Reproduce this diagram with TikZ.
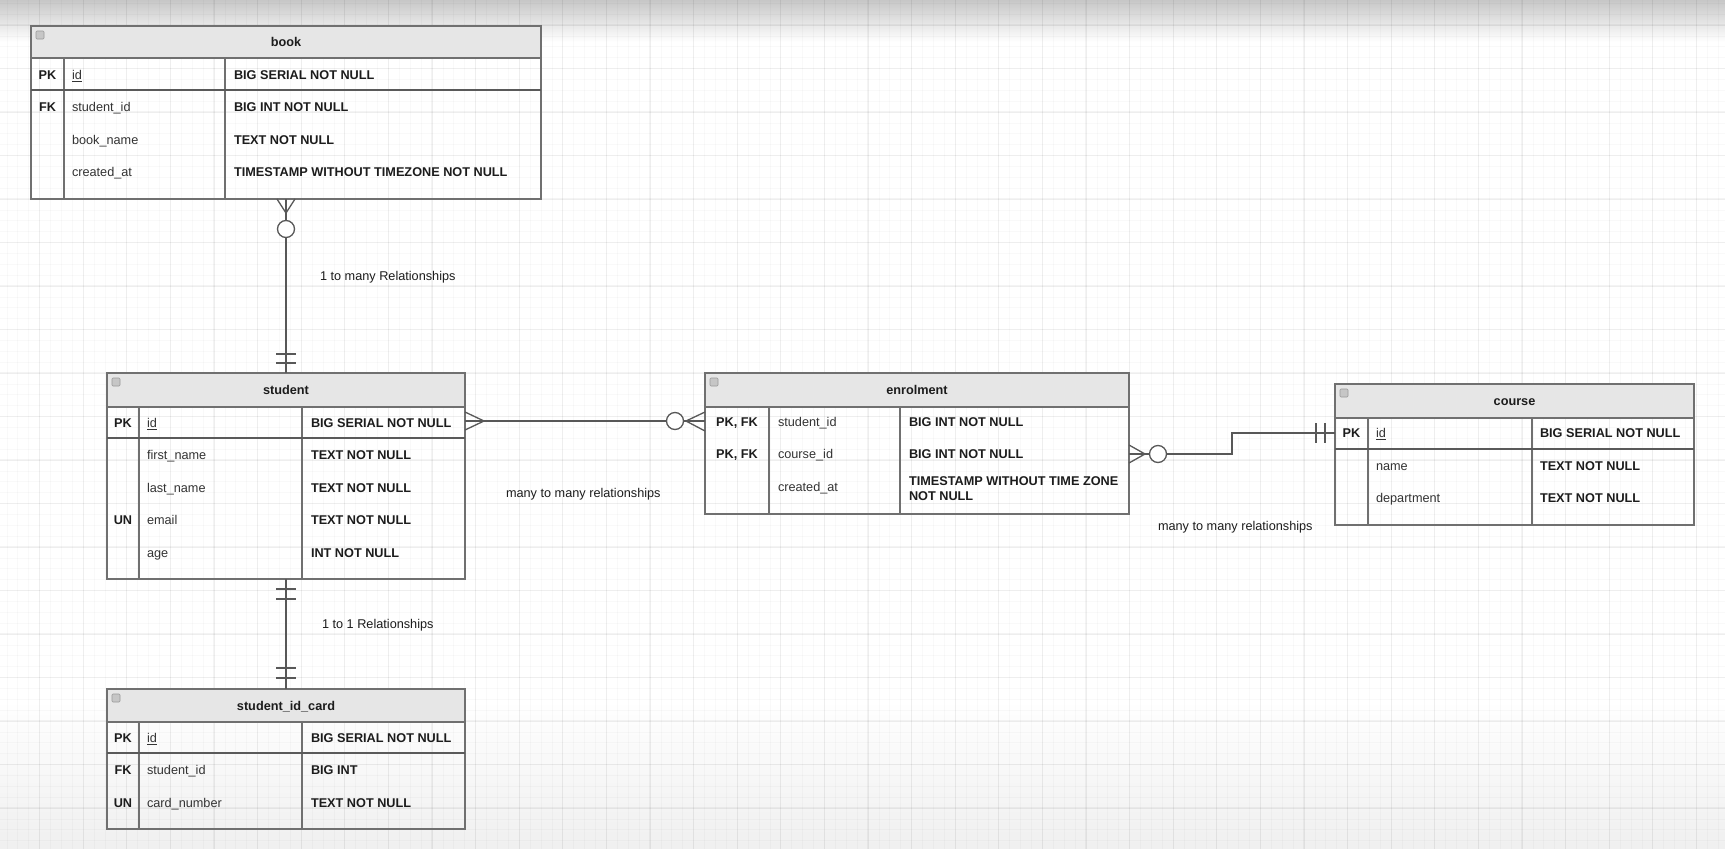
\documentclass[tikz,border=0pt]{standalone}
\usepackage{fontspec}
\setmainfont{Liberation Sans}
\usetikzlibrary{calc}

\definecolor{edge}{HTML}{707070}
\definecolor{pkedge}{HTML}{5A5A5A}
\definecolor{hdrfill}{HTML}{E6E6E6}
\definecolor{ink}{HTML}{1C1C1C}
\definecolor{fieldink}{HTML}{333333}
\definecolor{relc}{HTML}{585858}

\tikzset{
  tablebox/.style={draw=edge, line width=1.3pt, inner sep=0pt, outer sep=0pt},
  sepline/.style={draw=edge, line width=1.3pt},
  pkline/.style={draw=pkedge, line width=2.6pt},
  basetext/.style={inner sep=0pt, outer sep=0pt, text height=9pt, text depth=0pt},
  titletext/.style={basetext, text=ink, font=\fontsize{12.7}{15}\selectfont\bfseries},
  keytext/.style={basetext, text=ink, font=\fontsize{12.7}{15}\selectfont\bfseries},
  fieldtext/.style={basetext, anchor=west, text=fieldink},
  typetext/.style={basetext, anchor=west, text=ink, font=\fontsize{12.7}{15}\selectfont\bfseries},
  reltext/.style={basetext, anchor=west, text=ink},
  rel/.style={draw=relc, line width=1.3pt},
  ercircle/.style={circle, draw=relc, line width=1.3pt, fill=white, minimum size=17pt, inner sep=0pt},
  collapseicon/.style={draw=gray!80, fill=gray!45, rounded corners=1pt, minimum size=8pt, inner sep=0pt, line width=0.6pt},
  majorgrid/.style={draw=black, draw opacity=0.045, line width=1.1pt},
  minorgrid/.style={draw=black, draw opacity=0.022, line width=0.7pt},
}

% table frame: name, x0, y0, x1, y1, header bottom, title, column 1, column 2
\newcommand\ERtable[9]{%
  \fill[hdrfill] (#2,#3) rectangle (#4,#6);
  \node[tablebox, anchor=north west, minimum width={#4-#2}, minimum height={#5-#3}] (#1) at (#2,#3) {};
  \draw[sepline] (#2,#6) -- (#4,#6);
  \draw[sepline] (#8,#6) -- (#8,#5);
  \draw[sepline] (#9,#6) -- (#9,#5);
  \node[titletext] (#1-title) at ({(#2+#4)/2},{(#3+#6)/2}) {#7};
  \node[collapseicon] (#1-icon) at ({#2+9},{#3+9}) {};
}

\begin{document}
\begin{tikzpicture}[x=1pt,y=-1pt,font=\fontsize{12.7}{15}\selectfont]
\useasboundingbox (0,0) rectangle (1725,849);

% canvas
\fill[white] (0,0) rectangle (1725,849);
\shade[top color=black!22, bottom color=white] (0,0) rectangle (1725,42);
\shade[top color=white, bottom color=black!6] (0,700) rectangle (1725,849);
\foreach \j in {-3,...,157} \draw[minorgrid] ({39.6+10.9*\j},0) -- ({39.6+10.9*\j},849);
\foreach \j in {-2,...,76} \draw[minorgrid] (0,{25+10.875*\j}) -- (1725,{25+10.875*\j});
\foreach \k in {0,...,38} \draw[majorgrid] ({39.6+43.6*\k},0) -- ({39.6+43.6*\k},849);
\foreach \k in {0,...,19} \draw[majorgrid] (0,{25+43.5*\k}) -- (1725,{25+43.5*\k});

% ---------------- book ----------------
\ERtable{book}{31}{26}{541}{199}{58}{book}{64}{225}
\draw[pkline] (31,90) -- (541,90);
\node[keytext] (bk-k1) at (47.5,75) {PK};
\node[fieldtext] (bk-f1) at (72,75) {\underline{id}};
\node[typetext] (bk-t1) at (234,75) {BIG SERIAL NOT NULL};
\node[keytext] (bk-k2) at (47.5,107) {FK};
\node[fieldtext] (bk-f2) at (72,107) {student\_id};
\node[typetext] (bk-t2) at (234,107) {BIG INT NOT NULL};
\node[fieldtext] (bk-f3) at (72,140) {book\_name};
\node[typetext] (bk-t3) at (234,140) {TEXT NOT NULL};
\node[fieldtext] (bk-f4) at (72,172) {created\_at};
\node[typetext] (bk-t4) at (234,172) {TIMESTAMP WITHOUT TIMEZONE NOT NULL};

% ---------------- student ----------------
\ERtable{student}{107}{373}{465}{579}{407}{student}{139}{302}
\draw[pkline] (107,438) -- (465,438);
\node[keytext] (st-k1) at (123,423) {PK};
\node[fieldtext] (st-f1) at (147,423) {\underline{id}};
\node[typetext] (st-t1) at (311,423) {BIG SERIAL NOT NULL};
\node[fieldtext] (st-f2) at (147,455) {first\_name};
\node[typetext] (st-t2) at (311,455) {TEXT NOT NULL};
\node[fieldtext] (st-f3) at (147,488) {last\_name};
\node[typetext] (st-t3) at (311,488) {TEXT NOT NULL};
\node[keytext] (st-k4) at (123,520) {UN};
\node[fieldtext] (st-f4) at (147,520) {email};
\node[typetext] (st-t4) at (311,520) {TEXT NOT NULL};
\node[fieldtext] (st-f5) at (147,553) {age};
\node[typetext] (st-t5) at (311,553) {INT NOT NULL};

% ---------------- student_id_card ----------------
\ERtable{card}{107}{689}{465}{829}{722}{student\_id\_card}{139}{302}
\draw[pkline] (107,753) -- (465,753);
\node[keytext] (cd-k1) at (123,738) {PK};
\node[fieldtext] (cd-f1) at (147,738) {\underline{id}};
\node[typetext] (cd-t1) at (311,738) {BIG SERIAL NOT NULL};
\node[keytext] (cd-k2) at (123,770) {FK};
\node[fieldtext] (cd-f2) at (147,770) {student\_id};
\node[typetext] (cd-t2) at (311,770) {BIG INT};
\node[keytext] (cd-k3) at (123,803) {UN};
\node[fieldtext] (cd-f3) at (147,803) {card\_number};
\node[typetext] (cd-t3) at (311,803) {TEXT NOT NULL};

% ---------------- enrolment ----------------
\ERtable{enrol}{705}{373}{1129}{514}{407}{enrolment}{769}{900}
\node[keytext] (en-k1) at (737,422) {PK, FK};
\node[fieldtext] (en-f1) at (778,422) {student\_id};
\node[typetext] (en-t1) at (909,422) {BIG INT NOT NULL};
\node[keytext] (en-k2) at (737,454) {PK, FK};
\node[fieldtext] (en-f2) at (778,454) {course\_id};
\node[typetext] (en-t2) at (909,454) {BIG INT NOT NULL};
\node[fieldtext] (en-f3) at (778,487) {created\_at};
\node[typetext] (en-t3a) at (909,481) {TIMESTAMP WITHOUT TIME ZONE};
\node[typetext] (en-t3b) at (909,496) {NOT NULL};

% ---------------- course ----------------
\ERtable{course}{1335}{384}{1694}{525}{418}{course}{1368}{1532}
\draw[pkline] (1335,449) -- (1694,449);
\node[keytext] (co-k1) at (1351.5,433) {PK};
\node[fieldtext] (co-f1) at (1376,433) {\underline{id}};
\node[typetext] (co-t1) at (1540,433) {BIG SERIAL NOT NULL};
\node[fieldtext] (co-f2) at (1376,466) {name};
\node[typetext] (co-t2) at (1540,466) {TEXT NOT NULL};
\node[fieldtext] (co-f3) at (1376,498) {department};
\node[typetext] (co-t3) at (1540,498) {TEXT NOT NULL};

% ---------------- relationships ----------------
% book (zero or many) -- student (exactly one)
\coordinate (bk-s) at (286,199);
\coordinate (st-n) at (286,373);
\draw[rel] (bk-s) -- (st-n);
\draw[rel] ($(bk-s)+(-9,0)$) -- ($(bk-s)+(0,14)$) -- ($(bk-s)+(9,0)$);
\node[ercircle] (bk-o) at ($(bk-s)+(0,30)$) {};
\draw[rel] ($(st-n)+(-10,-19)$) -- ++(20,0);
\draw[rel] ($(st-n)+(-10,-10)$) -- ++(20,0);
\node[reltext] (lbl-1m) at (320,276) {1 to many Relationships};

% student (exactly one) -- student_id_card (exactly one)
\coordinate (st-s) at (286,579);
\coordinate (cd-n) at (286,689);
\draw[rel] (st-s) -- (cd-n);
\draw[rel] ($(st-s)+(-10,10)$) -- ++(20,0);
\draw[rel] ($(st-s)+(-10,20)$) -- ++(20,0);
\draw[rel] ($(cd-n)+(-10,-21)$) -- ++(20,0);
\draw[rel] ($(cd-n)+(-10,-11)$) -- ++(20,0);
\node[reltext] (lbl-11) at (322,624) {1 to 1 Relationships};

% student (many) -- enrolment (zero or many)
\coordinate (st-e) at (465,421);
\coordinate (en-w) at (705,421);
\draw[rel] (st-e) -- (en-w);
\draw[rel] ($(st-e)+(0,-9)$) -- ($(st-e)+(19,0)$) -- ($(st-e)+(0,9)$);
\draw[rel] ($(en-w)+(0,-9)$) -- ($(en-w)+(-19,0)$) -- ($(en-w)+(0,10)$);
\node[ercircle] (en-o1) at ($(en-w)+(-30,0)$) {};
\node[reltext] (lbl-mm1) at (506,493) {many to many relationships};

% enrolment (zero or many) -- course (exactly one)
\coordinate (en-e) at (1129,454);
\coordinate (co-w) at (1335,433);
\draw[rel] (en-e) -- ++(103,0) |- (co-w);
\draw[rel] ($(en-e)+(0,-9)$) -- ($(en-e)+(16,0)$) -- ($(en-e)+(0,9)$);
\node[ercircle] (en-o2) at ($(en-e)+(29,0)$) {};
\draw[rel] ($(co-w)+(-19,-10)$) -- ++(0,20);
\draw[rel] ($(co-w)+(-10,-10)$) -- ++(0,20);
\node[reltext] (lbl-mm2) at (1158,526) {many to many relationships};

\end{tikzpicture}
\end{document}
